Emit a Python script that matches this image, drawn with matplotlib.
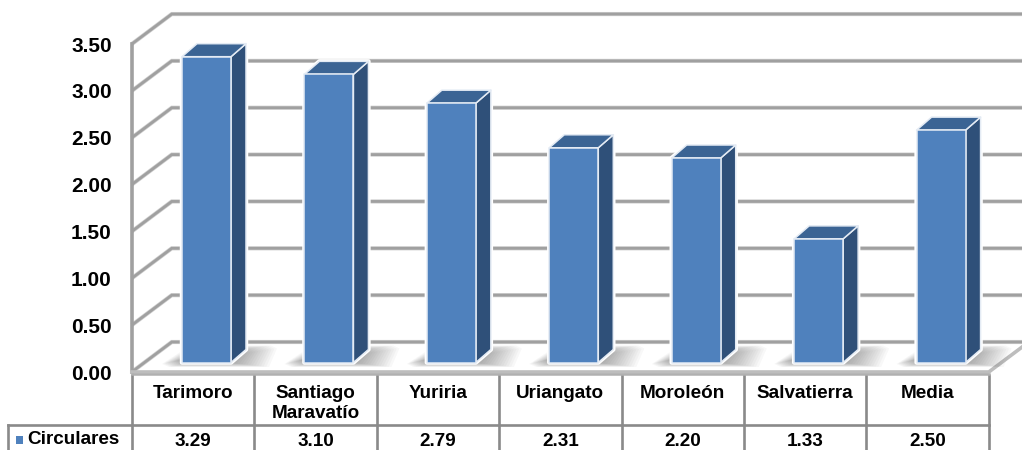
import matplotlib
matplotlib.use("Agg")
import matplotlib.pyplot as plt
from matplotlib.patches import Polygon

categories = ["Tarimoro", "Santiago\nMaravatío", "Yuriria", "Uriangato", "Moroleón", "Salvatierra", "Media"]
values = [3.29, 3.10, 2.79, 2.31, 2.20, 1.33, 2.50]
value_labels = ["3.29", "3.10", "2.79", "2.31", "2.20", "1.33", "2.50"]
series_name = "Circulares"
yticks = [0.0, 0.5, 1.0, 1.5, 2.0, 2.5, 3.0, 3.5]

W, H = 1022, 450
CAT_PX, VAL_PX = 122.43, 93.7
X0_PX, Y0_PX = 193.0, 372.0

plt.rcParams["font.family"] = ["Liberation Sans", "DejaVu Sans"]
fig = plt.figure(figsize=(W / 100, H / 100), dpi=100)
ax = fig.add_axes([0, 0, 1, 1])
ax.set_xlim((0 - X0_PX) / CAT_PX, (W - X0_PX) / CAT_PX)
ax.set_ylim((Y0_PX - H) / VAL_PX, Y0_PX / VAL_PX)
ax.axis("off")

def px(n):
    return n / CAT_PX
def py(n):
    return n / VAL_PX

GRID = "#a0a0a0"
TABLE = "#8a8a8a"
FRONT = "#4f81bd"
SIDE = "#2f5079"
TOP = "#3b6494"

left = -0.5
right = len(categories) - 0.5
wall_dx, wall_dy = px(40), py(30)

# Walls and gridlines
for t in yticks:
    ax.plot([left, left + wall_dx, right + px(40)], [t, t + wall_dy, t + wall_dy],
            color="#cfcfcf", lw=3.0, zorder=1, solid_joinstyle="miter", solid_capstyle="butt")
    ax.plot([left, left + wall_dx, right + px(40)], [t, t + wall_dy, t + wall_dy],
            color=GRID, lw=2.0, zorder=1.1, solid_joinstyle="miter", solid_capstyle="butt")
ax.plot([left, left], [0, yticks[-1]], color=GRID, lw=2.6, zorder=1.1)
# Floor front edge and right edge
ax.plot([left, right, right + wall_dx], [0, 0, wall_dy], color="#bdbdbd", lw=2.6, zorder=1.1)

# Bars
bar_w = px(49)
bar_dx, bar_dy = px(13.5), py(9.5)
side_dx, side_dy = px(15), py(13)
for i, v in enumerate(values):
    x0 = i + bar_dx - bar_w / 2
    x1 = x0 + bar_w
    b = bar_dy
    k = 0.992
    tp = b + v * k
    # soft floor shadow
    n = 16
    for j in range(n):
        g = j / (n - 1)
        sb = b - py(4.5 * (1 - g))
        st = b + py(17 - 6 * g)
        sx0 = x0 - px(20 * (1 - g))
        sx1 = x1 + px(40 * (1 - g) + 6)
        ax.add_patch(Polygon([(sx0 + px(7), sb), (sx1 - px(8), sb), (sx1, st - py(3)), (sx1 - px(6), st),
                              (sx0 + px(28), st), (sx0, sb + py(3))],
                             closed=True, fc="#3a3a3a", ec="none", alpha=0.036, zorder=2))
    # white halo that separates the bar from the gridlines
    ax.add_patch(Polygon([(x0, b), (x1, b), (x1 + side_dx, b + side_dy), (x1 + side_dx, tp + side_dy),
                          (x0 + side_dx, tp + side_dy), (x0, tp)],
                         closed=True, fc="none", ec="white", lw=3.2, zorder=2.5, joinstyle="round"))
    edge = dict(ec="#e4ebf4", lw=1.1, joinstyle="round")
    ax.add_patch(Polygon([(x1, b), (x1 + side_dx, b + side_dy), (x1 + side_dx, tp + side_dy), (x1, tp)],
                         closed=True, fc=SIDE, zorder=3, **edge))
    ax.add_patch(Polygon([(x0, tp), (x1, tp), (x1 + side_dx, tp + side_dy), (x0 + side_dx, tp + side_dy)],
                         closed=True, fc=TOP, zorder=3, **edge))
    ax.add_patch(Polygon([(x0, b), (x1, b), (x1, tp), (x0, tp)],
                         closed=True, fc=FRONT, zorder=4, **edge))

# Y tick labels
for t in yticks:
    ax.text(left - px(20), t - py(2), f"{t:.2f}", ha="right", va="center",
            fontsize=15, fontweight="bold", color="black", zorder=6)

# Data table
t_top, t_mid, t_bot = -py(2), -py(53), -py(80)
for i in range(len(categories) + 1):
    ax.plot([left + i, left + i], [t_top, t_bot], color=TABLE, lw=1.9, zorder=5,
            solid_capstyle="butt")
ax.plot([left, right], [t_top, t_top], color="#b0b0b0", lw=1.8, zorder=5)
ax.plot([left - px(124), left - px(124)], [t_mid, t_bot], color=TABLE, lw=1.9, zorder=5)
ax.plot([left - px(124), right], [t_mid, t_mid], color=TABLE, lw=1.9, zorder=5)

for i, (c, lab) in enumerate(zip(categories, value_labels)):
    ax.text(i, -py(22), c.split("\n")[0], ha="center", va="center",
            fontsize=13.6, fontweight="bold", zorder=6)
    if "\n" in c:
        ax.text(i, -py(42), c.split("\n")[1], ha="center", va="center",
                fontsize=13.6, fontweight="bold", zorder=6)
    ax.text(i, -py(69), lab, ha="center", va="center", fontsize=13.6, fontweight="bold", zorder=6)

sx = left - px(116)
ax.add_patch(Polygon([(sx, -py(64)), (sx + px(7.5), -py(64)), (sx + px(7.5), -py(71.5)), (sx, -py(71.5))],
                     closed=True, fc=FRONT, ec="none", zorder=6))
ax.text(left - px(105), -py(68), series_name, ha="left", va="center",
        fontsize=13.6, fontweight="bold", zorder=6)

fig.savefig("out.png", dpi=100, facecolor="white")
